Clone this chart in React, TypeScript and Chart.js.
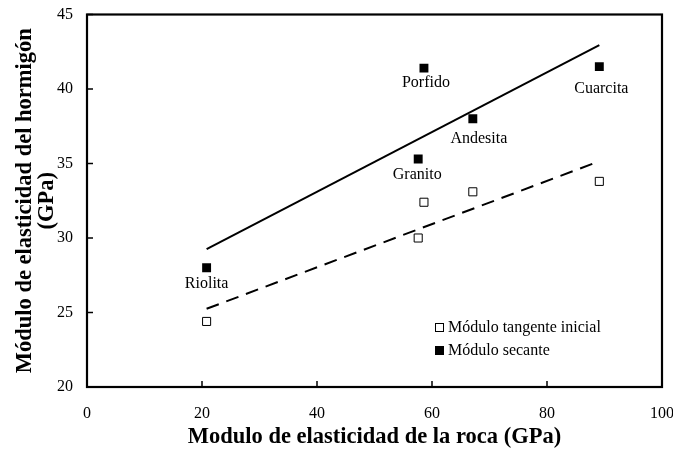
import React, { useEffect, useRef } from "react";
import { Chart, registerables } from "chart.js";

Chart.register(...registerables);

// ---- data ----
const rockNames = ["Riolita", "Granito", "Porfido", "Andesita", "Cuarcita"];
const rockModulus = [20.8, 57.6, 58.6, 67.1, 89.1];
const tangentModulus = [24.4, 30.0, 32.4, 33.1, 33.8];
const secantModulus = [28.0, 35.3, 41.4, 38.0, 41.5];
const secantTrendX = [20.8, 89.1];
const secantTrendY = [29.25, 42.95];
const tangentTrendX = [20.8, 89.1];
const tangentTrendY = [25.25, 35.15];
const xTicks = [0, 20, 40, 60, 80, 100];
const yTicks = [20, 25, 30, 35, 40, 45];
const legendLabels = ["Módulo tangente inicial", "Módulo secante"];

// label nudges (style only)
const labelDx = [0, -1, 2, 6, 2];
const labelDy = [16, 16, 15, 20, 22];

const SERIF = '"Liberation Serif", "Times New Roman", Times, serif';

const framePlugin = {
  id: "frameTicks",
  afterDatasetsDraw(chart: any) {
    const { ctx, chartArea, scales } = chart;
    const { left, right, top, bottom } = chartArea;
    ctx.save();
    ctx.strokeStyle = "#000";
    ctx.lineWidth = 1.5;
    xTicks.forEach((v) => {
      const px = scales.x.getPixelForValue(v);
      ctx.beginPath();
      ctx.moveTo(px, bottom);
      ctx.lineTo(px, bottom - 6);
      ctx.stroke();
    });
    yTicks.forEach((v) => {
      const py = scales.y.getPixelForValue(v);
      ctx.beginPath();
      ctx.moveTo(left, py);
      ctx.lineTo(left + 6, py);
      ctx.stroke();
    });
    ctx.lineWidth = 2.2;
    ctx.strokeRect(left, top, right - left, bottom - top);

    // point labels
    ctx.fillStyle = "#000";
    ctx.font = `16px ${SERIF}`;
    ctx.textAlign = "center";
    ctx.textBaseline = "middle";
    rockNames.forEach((name, i) => {
      const px = scales.x.getPixelForValue(rockModulus[i]);
      const py = scales.y.getPixelForValue(secantModulus[i]);
      ctx.fillText(name, px + labelDx[i], py + labelDy[i]);
    });

    // legend
    const lx = right - 223;
    const ly = bottom - 60;
    ctx.textAlign = "left";
    legendLabels.forEach((lab, i) => {
      const y = ly + i * 23;
      if (i === 0) {
        ctx.fillStyle = "#fff";
        ctx.fillRect(lx - 4, y - 4, 8, 8);
        ctx.lineWidth = 1;
        ctx.strokeStyle = "#000";
        ctx.strokeRect(lx - 3.5, y - 3.5, 8, 8);
      } else {
        ctx.fillStyle = "#000";
        ctx.fillRect(lx - 4, y - 4, 9, 9);
      }
      ctx.fillStyle = "#000";
      ctx.fillText(lab, lx + 9, y + 1);
    });
    ctx.restore();
  },
};

export default function App() {
  const ref = useRef<HTMLCanvasElement | null>(null);
  useEffect(() => {
    if (!ref.current) return;
    const chart = new Chart(ref.current, {
      type: "scatter",
      data: {
        datasets: [
          {
            label: legendLabels[1],
            data: rockModulus.map((x, i) => ({ x, y: secantModulus[i] })),
            pointStyle: "rect",
            pointRadius: 6.3,
            backgroundColor: "#000",
            borderColor: "#000",
            borderWidth: 0,
          },
          {
            label: legendLabels[0],
            data: rockModulus.map((x, i) => ({ x, y: tangentModulus[i] })),
            pointStyle: "rect",
            pointRadius: 5.7,
            backgroundColor: "#fff",
            borderColor: "#000",
            borderWidth: 1,
          },
          {
            type: "line",
            label: "trend secante",
            data: secantTrendX.map((x, i) => ({ x, y: secantTrendY[i] })),
            borderColor: "#000",
            borderWidth: 2,
            pointRadius: 0,
            fill: false,
          } as any,
          {
            type: "line",
            label: "trend tangente",
            data: tangentTrendX.map((x, i) => ({ x, y: tangentTrendY[i] })),
            borderColor: "#000",
            borderWidth: 2,
            borderDash: [13, 8],
            pointRadius: 0,
            fill: false,
          } as any,
        ],
      },
      options: {
        animation: false,
        responsive: false,
        devicePixelRatio: 1,
        layout: { padding: { top: 14.5, right: 38, bottom: 0, left: 0 } },
        plugins: { legend: { display: false }, tooltip: { enabled: false } },
        scales: {
          x: {
            type: "linear",
            min: 0,
            max: 100,
            afterBuildTicks: (s: any) => {
              s.ticks = xTicks.map((v) => ({ value: v }));
            },
            afterFit: (s: any) => {
              s.height = 63;
            },
            grid: { display: false, drawTicks: false },
            border: { display: false },
            ticks: {
              color: "#000",
              font: { family: SERIF, size: 16 },
              padding: 17,
              maxRotation: 0,
            },
            title: {
              display: true,
              text: "Modulo de elasticidad de la roca (GPa)",
              color: "#000",
              font: { family: SERIF, size: 22.5, weight: "bold", lineHeight: 1 },
              padding: { top: 0, bottom: 2 },
            },
          },
          y: {
            type: "linear",
            min: 20,
            max: 45,
            afterBuildTicks: (s: any) => {
              s.ticks = yTicks.map((v) => ({ value: v }));
            },
            afterFit: (s: any) => {
              s.width = 87;
            },
            grid: {
              display: true,
              drawOnChartArea: false,
              drawTicks: true,
              tickLength: 12,
              color: "rgba(0,0,0,0)",
            },
            border: { display: false },
            ticks: {
              color: "#000",
              font: { family: SERIF, size: 16 },
              padding: 2,
            },
            title: {
              display: true,
              text: ["Módulo de elasticidad del hormigón", "(GPa)"],
              color: "#000",
              font: { family: SERIF, size: 22.5, weight: "bold", lineHeight: 1 },
              padding: { top: 13.5, bottom: 0 },
            },
          },
        },
      },
      plugins: [framePlugin],
    } as any);
    return () => chart.destroy();
  }, []);
  return (
    <div
      style={{
        position: "fixed",
        left: 0,
        top: 0,
        width: 673,
        height: 450,
        overflow: "hidden",
        background: "#fff",
      }}
    >
      <canvas ref={ref} width={700} height={450} style={{ width: 700, height: 450, display: "block" }} />
    </div>
  );
}
